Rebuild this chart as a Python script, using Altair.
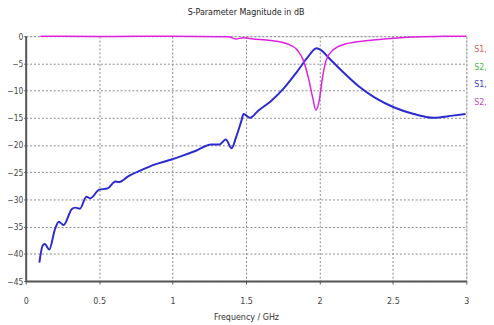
import altair as alt
import pandas as pd

# S1,2 (blue) readings
s12_f = [0.093, 0.115, 0.13, 0.16, 0.20, 0.225, 0.258, 0.313, 0.336, 0.369, 0.413, 0.439,
         0.501, 0.556, 0.611, 0.634, 0.70, 0.788, 0.876, 0.987, 1.064, 1.163, 1.263, 1.318,
         1.362, 1.402, 1.432, 1.468, 1.483, 1.528, 1.583, 1.671, 1.76, 1.848, 1.914, 1.98,
         2.013, 2.068, 2.157, 2.267, 2.377, 2.51, 2.642, 2.775, 2.907, 2.995]
s12_db = [-41.6, -38.5, -38.2, -39.2, -35.4, -34.1, -34.7, -31.8, -31.5, -31.7, -29.5, -29.8,
          -28.2, -28.0, -26.7, -26.8, -25.7, -24.6, -23.6, -22.7, -22.0, -21.0, -19.9, -19.9,
          -19.0, -20.6, -18.6, -15.6, -14.3, -15.0, -13.7, -11.9, -9.5, -6.5, -4.1, -2.2,
          -2.6, -4.1, -6.5, -9.2, -11.3, -13.1, -14.3, -15.0, -14.6, -14.3]

# S2,2 (magenta) readings
s22_f = [0.1, 0.5, 1.0, 1.38, 1.43, 1.48, 1.55, 1.67, 1.78, 1.85, 1.89, 1.925, 1.954, 1.976,
         1.998, 2.02, 2.046, 2.09, 2.18, 2.33, 2.51, 2.69, 2.85, 3.0]
s22_db = [0.0, -0.05, 0.0, -0.1, -0.5, -0.3, -0.5, -0.8, -1.4, -2.6, -4.4, -7.7, -11.3, -13.6,
          -11.9, -7.7, -4.4, -2.6, -1.4, -0.8, -0.36, -0.1, 0.0, 0.0]

legend_names = ["S1,1", "S2,1", "S1,2", "S2,2"]
legend_colors = ["#e05a5a", "#44bb44", "#4444cc", "#cc44cc"]
legend_y = [13, 31, 49, 67]

x_ticks = [0, 0.5, 1, 1.5, 2, 2.5, 3]
y_ticks = [0, -5, -10, -15, -20, -25, -30, -35, -40, -45]

FONT = "DejaVu Sans Condensed, Liberation Sans, sans-serif"

df12 = pd.DataFrame({"f": s12_f, "db": s12_db, "s": "S1,2"})
df22 = pd.DataFrame({"f": s22_f, "db": s22_db, "s": "S2,2"})
leg = pd.DataFrame({"name": legend_names, "color": legend_colors, "y": legend_y})

xscale = alt.Scale(domain=[0, 3], nice=False)
yscale = alt.Scale(domain=[-45, 0], nice=False)

xaxis = alt.Axis(values=x_ticks, format="~g", title="Frequency / GHz", grid=True,
                 gridDash=[2, 2], gridColor="#888888", gridWidth=1, domainColor="#555555",
                 domainWidth=2, tickColor="#555555", tickSize=3, labelFont=FONT,
                 labelFontSize=9, labelColor="#444444", labelPadding=13, labelOverlap=False,
                 titleFont=FONT, titleFontSize=9, titleFontWeight="normal",
                 titleColor="#333333", titlePadding=7, labelFlush=False)
yaxis = alt.Axis(values=y_ticks, format="~g", title=None, grid=True, gridDash=[2, 2],
                 gridColor="#888888", gridWidth=1, domainColor="#555555", domainWidth=2,
                 tickColor="#555555", tickSize=2, labelFont=FONT, labelFontSize=8.5,
                 labelColor="#444444", labelPadding=1, labelOverlap=False, labelFlush=False,
                 labelBound=False)

blue = alt.Chart(df12).mark_line(color="#2a2ad0", strokeWidth=2, interpolate="monotone").encode(
    x=alt.X("f:Q", scale=xscale, axis=xaxis),
    y=alt.Y("db:Q", scale=yscale, axis=yaxis),
)
mag = alt.Chart(df22).mark_line(color="#e020e0", strokeWidth=1.5, interpolate="monotone").encode(
    x=alt.X("f:Q", scale=xscale, axis=xaxis),
    y=alt.Y("db:Q", scale=yscale, axis=yaxis),
)
legend = alt.Chart(leg).mark_text(align="left", baseline="middle", font=FONT, fontSize=9).encode(
    x=alt.value(456),
    y=alt.Y("y:Q", scale=None),
    text="name:N",
    color=alt.Color("color:N", scale=None),
)
title = alt.Chart(pd.DataFrame({"t": ["S-Parameter Magnitude in dB"]})).mark_text(
    align="center", baseline="middle", font=FONT, fontSize=9, color="#222222"
).encode(x=alt.value(224), y=alt.value(-25), text="t:N")

chart = alt.layer(blue, mag, legend, title).properties(
    width=448, height=249,
    autosize=alt.AutoSizeParams(type="none"),
    padding={"left": 18, "top": 26, "right": 20, "bottom": 42},
).configure_view(stroke="#999999", strokeWidth=1).configure(background="white")

chart.save("out.html", embed_options={"renderer": "svg", "actions": False})
